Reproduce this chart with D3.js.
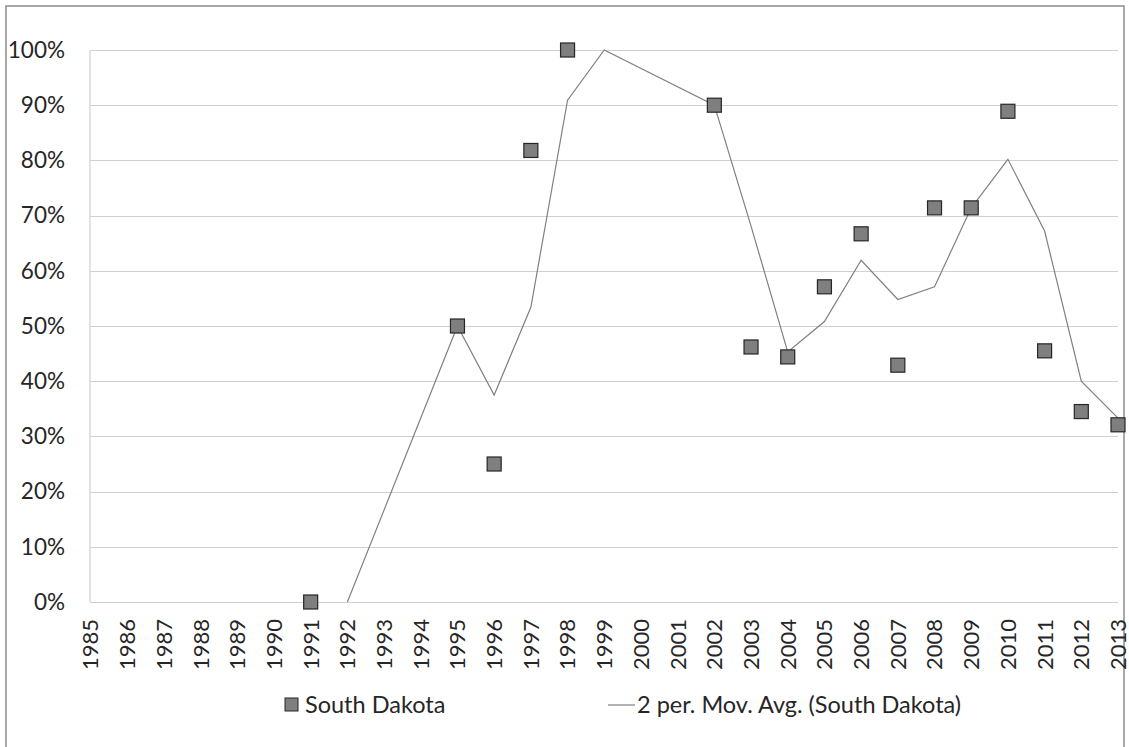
<!DOCTYPE html>
<html><head><meta charset="utf-8">
<script src="https://cdn.jsdelivr.net/npm/d3@7"></script>
<style>body{margin:0;background:#fff}svg{display:block}text{font-family:Lato,"Open Sans",sans-serif;fill:#262626}</style>
</head><body>
<svg id="c" width="1129" height="747"></svg>
<script>
const years = d3.range(1985, 2014);
const pointYears = [1991,1995,1996,1997,1998,2002,2003,2004,2005,2006,2007,2008,2009,2010,2011,2012,2013];
const pointValues = [0,50,25,81.8,100,90,46.2,44.4,57.1,66.7,42.9,71.4,71.4,88.9,45.5,34.5,32.1];
const maYears = [1992,1995,1996,1997,1998,1999,2002,2003,2004,2005,2006,2007,2008,2009,2010,2011,2012,2013];
const maValues = [0,50,37.5,53.4,90.9,100,90,68.1,45.3,50.8,61.9,54.8,57.1,71.4,80.2,67.2,40,33.3];
const yTicks = [0,10,20,30,40,50,60,70,80,90,100];
const legendLabels = ["South Dakota","2 per. Mov. Avg. (South Dakota)"];

const svg = d3.select("#c");
svg.append("rect").attr("x",6).attr("y",6).attr("width",1118).attr("height",760)
  .attr("fill","none").attr("stroke","#8c8c8c").attr("stroke-width",1.5);

const x = d3.scaleLinear().domain([1985,2013]).range([90.5,1118]);
const y = d3.scaleLinear().domain([0,100]).range([602,50]);

const g = svg.append("g");
g.selectAll("line.grid").data(yTicks).enter().append("line")
  .attr("x1",90).attr("x2",1118).attr("y1",d=>Math.round(y(d))+0.5).attr("y2",d=>Math.round(y(d))+0.5)
  .attr("stroke","#d0d0d0").attr("stroke-width",1.2);
g.append("line").attr("x1",90).attr("x2",90).attr("y1",y(100)).attr("y2",y(0))
  .attr("stroke","#d0d0d0").attr("stroke-width",1.2);

g.selectAll("text.yl").data(yTicks).enter().append("text")
  .attr("x",65).attr("y",d=>y(d)).attr("dy","0.35em").attr("text-anchor","end")
  .attr("font-size",22.5).text(d=>d+"%");

g.selectAll("text.xl").data(years).enter().append("text")
  .attr("transform",d=>`translate(${x(d)},619) rotate(-90)`).attr("dy","0.36em")
  .attr("text-anchor","end").attr("font-size",22).text(d=>d);

const line = d3.line().x(d=>x(d[0])).y(d=>y(d[1]));
g.append("path").datum(maYears.map((yr,i)=>[yr,maValues[i]]))
  .attr("d",line).attr("fill","none").attr("stroke","#808080").attr("stroke-width",1.2);

const s = 14;
g.selectAll("rect.pt").data(pointYears.map((yr,i)=>[yr,pointValues[i]])).enter().append("rect")
  .attr("x",d=>x(d[0])-s/2).attr("y",d=>y(d[1])-s/2).attr("width",s).attr("height",s)
  .attr("fill","#7f7f7f").attr("stroke","#262626").attr("stroke-width",1.2);

// legend
const lg = svg.append("g");
lg.append("rect").attr("x",285).attr("y",698).attr("width",13).attr("height",13)
  .attr("fill","#7f7f7f").attr("stroke","#262626").attr("stroke-width",1);
lg.append("text").attr("x",305).attr("y",705).attr("dy","0.35em").attr("font-size",23.5).text(legendLabels[0]);
lg.append("line").attr("x1",608).attr("x2",635).attr("y1",705).attr("y2",705)
  .attr("stroke","#808080").attr("stroke-width",1.2);
lg.append("text").attr("x",637).attr("y",705).attr("dy","0.35em").attr("font-size",23.5).text(legendLabels[1]);
</script>
</body></html>
